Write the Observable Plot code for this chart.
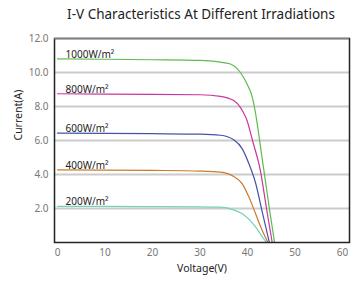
<!DOCTYPE html>
<html>
<head>
<meta charset="utf-8">
<script src="https://cdn.jsdelivr.net/npm/d3@7"></script>
<script src="https://cdn.jsdelivr.net/npm/@observablehq/plot@0.6"></script>
<style>
  html, body { margin: 0; padding: 0; background: #fff; }
  #wrap { position: relative; width: 358px; height: 281px; overflow: hidden; font-family: "Noto Sans", sans-serif; }
  #wrap svg { position: absolute; left: 0; top: 0; }
  #title { position: absolute; left: 0; top: 5px; width: 402px; text-align: center; font-family: "Noto Sans", sans-serif; font-size: 13.5px; color: #222; white-space: nowrap; z-index: 2; }
</style>
</head>
<body>
<div id="wrap">
  <div id="title">I-V Characteristics At Different Irradiations</div>
</div>
<script>
// Series names and colours
const seriesNames = ["1000W/m²", "800W/m²", "600W/m²", "400W/m²", "200W/m²"];
const seriesColors = ["#5dbb4e", "#c8379a", "#4453a6", "#cc7a2a", "#72d2bb"];

// Curve points: voltage (V) and current (A)
const v1000 = [0, 10, 20, 30, 34, 36.4, 38.5, 39.9, 41.0, 41.7, 42.4, 43.1, 43.6, 44.6, 45.7];
const i1000 = [10.8, 10.78, 10.75, 10.71, 10.62, 10.5, 10.0, 9.33, 8.55, 7.6, 6.3, 4.9, 3.95, 2.0, 0];

const v800 = [0, 10, 20, 30, 34.3, 37.1, 38.5, 38.9, 39.9, 41.05, 42.7, 44.0, 45.2];
const i800 = [8.75, 8.73, 8.71, 8.69, 8.6, 8.35, 7.95, 7.76, 7.18, 6.0, 4.24, 2.0, 0];

const v600 = [0, 10, 20, 30, 34.3, 37.1, 38.9, 40.3, 41.7, 43.1, 44.6];
const i600 = [6.43, 6.42, 6.40, 6.37, 6.31, 6.04, 5.51, 4.63, 3.5, 1.8, 0];

const v400 = [0, 10, 20, 30, 34.3, 37.1, 38.9, 40.3, 41.7, 43.1, 44.3];
const i400 = [4.27, 4.26, 4.24, 4.2, 4.14, 3.88, 3.45, 2.67, 1.69, 0.7, 0];

const v200 = [0, 10, 20, 30, 34.3, 37.1, 38.9, 40.6, 42.0, 43.4, 44.0];
const i200 = [2.12, 2.12, 2.11, 2.10, 2.08, 1.92, 1.69, 1.29, 0.8, 0.22, 0];

const labelCurrents = [10.8, 8.75, 6.43, 4.27, 2.12];

const xTicks = [0, 10, 20, 30, 40, 50, 60];
const yTicks = [2, 4, 6, 8, 10, 12];
const gridValues = [2, 4, 6, 8, 10];
const xTitle = ["Voltage(V)"];
const yTitle = ["Current(A)"];

const volts = [v1000, v800, v600, v400, v200];
const amps = [i1000, i800, i600, i400, i200];
const rows = [];
seriesNames.forEach((s, k) => {
  volts[k].forEach((v, j) => rows.push({series: s, V: v, I: amps[k][j]}));
});
const labels = seriesNames.map((s, k) => ({series: s, I: labelCurrents[k]}));

const chart = Plot.plot({
  width: 358,
  height: 281,
  marginTop: 38,
  marginBottom: 39,
  marginLeft: 54,
  marginRight: 9,
  style: {fontFamily: "Noto Sans, sans-serif", background: "white"},
  x: {domain: [-0.63, 61.47]},
  y: {domain: [0, 12]},
  color: {domain: seriesNames, range: seriesColors},
  marks: [
    Plot.ruleY(gridValues, {stroke: "#cccccc", strokeWidth: 2}),
    Plot.line(rows, {x: "V", y: "I", z: "series", stroke: "series", strokeWidth: 1.2, curve: "monotone-x", clip: true}),
    Plot.text(labels, {y: "I", text: "series", frameAnchor: "left", dx: 11, dy: -1, lineAnchor: "bottom", textAnchor: "start", fontSize: 10, fill: "#222"}),
    Plot.frame({stroke: "#222", strokeWidth: 1.5}),
    Plot.ruleY([12], {stroke: "#808080", strokeWidth: 1.5}),
    Plot.axisX({ticks: xTicks, tickSize: 0, tickPadding: 6, fontSize: 10, color: "#777", label: null}),
    Plot.axisY({ticks: yTicks, tickSize: 0, tickPadding: 6, fontSize: 10, color: "#777", tickFormat: d3.format(".1f"), label: null}),
    Plot.text(xTitle, {frameAnchor: "bottom", dy: 29, fontSize: 10.5, fill: "#222"}),
    Plot.text(yTitle, {frameAnchor: "left", dx: -36, rotate: -90, fontSize: 10.5, fill: "#222"})
  ]
});
document.getElementById("wrap").prepend(chart);
</script>
</body>
</html>
